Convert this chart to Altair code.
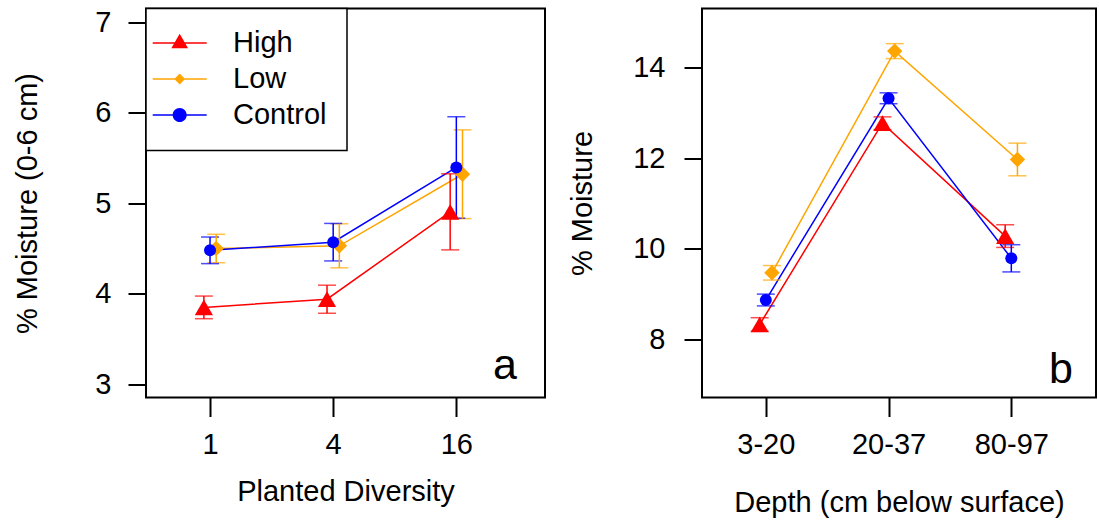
import json
import altair as alt
import pandas as pd

# ---------------- data ----------------
series = ["High", "Low", "Control"]
series_colors = ["#FF0000", "#FFA500", "#0000FF"]

diversity_labels = ["1", "4", "16"]
high_a = [3.85, 3.94, 4.905]
low_a = [4.50, 4.53, 5.32]
control_a = [4.48, 4.57, 5.395]
high_a_se = [0.125, 0.155, 0.42]
low_a_se = [0.157, 0.243, 0.49]
control_a_se = [0.147, 0.207, 0.56]

depth_labels = ["3-20", "20-37", "80-97"]
high_b = [8.33, 12.77, 10.28]
low_b = [9.47, 14.36, 11.97]
control_b = [8.87, 13.32, 9.79]
high_b_se = [0.15, 0.14, 0.25]
low_b_se = [0.16, 0.165, 0.36]
control_b_se = [0.13, 0.12, 0.30]

# ---------------- styling ----------------
FONT = "Liberation Sans"
OFFSET = {"High": -0.05, "Low": 0.05, "Control": 0.0}
SHAPES = ["triangle-up", "diamond", "circle"]
SIZES = [330, 144, 250]
LINE = "M-3.09,-0.083H2.91V0.083H-3.09Z "
LEGEND_PATHS = [
    LINE + "M-0.09,-1.04L0.84,0.59H-1.02Z",
    LINE + "M-0.09,-0.6L0.51,0L-0.09,0.6L-0.69,0Z",
    LINE + "M0.69,0A0.78,0.78 0 1,1 -0.87,0A0.78,0.78 0 1,1 0.69,0Z",
]
FILL_EXPR = " : ".join(
    "datum.value === '%s' ? '%s'" % (s, c) for s, c in zip(series[:-1], series_colors[:-1])
) + " : '%s'" % series_colors[-1]


def make_df(means, ses):
    rows = []
    for s, m, e in zip(series, means, ses):
        for i, (v, se) in enumerate(zip(m, e)):
            rows.append({"series": s, "x": i + 1 + OFFSET[s], "y": v,
                         "lo": v - se, "hi": v + se})
    return pd.DataFrame(rows)


df_a = make_df([high_a, low_a, control_a], [high_a_se, low_a_se, control_a_se])
df_b = make_df([high_b, low_b, control_b], [high_b_se, low_b_se, control_b_se])


def panel(df, cat_labels, xdom, ydom, yticks, xtitle, ytitle, ylabpad,
          ytitlepad, xtitlepad, width, tag, tagx, tagy, with_legend):
    label_expr = json.dumps(cat_labels) + "[datum.value - 1]"
    xsc = alt.Scale(domain=xdom, nice=False, zero=False)
    ysc = alt.Scale(domain=ydom, nice=False, zero=False)
    xax = alt.Axis(values=[1, 2, 3], labelExpr=label_expr, title=xtitle,
                   tickSize=19, labelPadding=14, titlePadding=xtitlepad)
    yax = alt.Axis(values=yticks, title=ytitle, tickSize=18,
                   labelPadding=ylabpad, titlePadding=ytitlepad)
    x = alt.X("x:Q", scale=xsc, axis=xax)
    color = alt.Color("series:N", scale=alt.Scale(domain=series, range=series_colors),
                      legend=None)
    base = alt.Chart(df)
    lines = base.mark_line(strokeWidth=1.5).encode(
        x=x, y=alt.Y("y:Q", scale=ysc, axis=yax), color=color,
        detail="series:N", order="x:Q")
    bars = base.mark_errorbar(ticks=True, size=18, thickness=1.5).encode(
        x=x, y=alt.Y("lo:Q", scale=ysc, axis=yax), y2="hi:Q", color=color)
    pts = base.mark_point(filled=True, opacity=1).encode(
        x=x, y=alt.Y("y:Q", scale=ysc, axis=yax), color=color,
        shape=alt.Shape("series:N", scale=alt.Scale(domain=series, range=SHAPES), legend=None),
        size=alt.Size("series:O", scale=alt.Scale(domain=series, range=SIZES), legend=None))
    tag_df = pd.DataFrame({"x": [tagx], "y": [tagy], "t": [tag]})
    tag_mark = alt.Chart(tag_df).mark_text(
        fontSize=43, font=FONT, baseline="alphabetic", align="center", color="black"
    ).encode(x=x, y=alt.Y("y:Q", scale=ysc, axis=yax), text="t:N")
    layers = [lines, bars, pts, tag_mark]
    if with_legend:
        leg = alt.Legend(title=None, orient="top-left", offset=0, padding=20,
                         strokeColor="black", fillColor="white", labelFont=FONT,
                         labelFontSize=29, labelColor="black", symbolSize=324,
                         symbolStrokeWidth=0, symbolOpacity=1,
                         labelOffset=38, rowPadding=6, labelLimit=400)
        legend_layer = base.mark_point(filled=True, opacity=0, size=324).encode(
            x=x, y=alt.Y("y:Q", scale=ysc, axis=yax),
            fill={"value": {"expr": FILL_EXPR}},
            shape=alt.Shape("series:N", scale=alt.Scale(domain=series, range=LEGEND_PATHS), legend=leg))
        layers.append(legend_layer)
    ch = alt.layer(*layers).properties(width=width, height=389)
    if with_legend:
        ch = ch.resolve_scale(shape="independent")
    return ch


pa = panel(df_a, diversity_labels, [0.48, 3.72], [2.855, 7.15], [3, 4, 5, 6, 7],
           "Planted Diversity", "% Moisture (0-6 cm)", 17, 52, 18, 399,
           "a", 3.395, 3.063, True)
pb = panel(df_b, depth_labels, [0.48, 3.69], [6.72, 15.30], [8, 10, 12, 14],
           "Depth (cm below surface)", "% Moisture", 19, 35, 29, 394,
           "b", 3.404, 7.044, False)

chart = alt.hconcat(pa, pb, spacing=21).properties(
    padding={"left": 12, "top": 6.5, "right": 0, "bottom": 0}
).configure_view(stroke="black", strokeWidth=2).configure_axis(
    domain=False, grid=False, tickColor="black", tickWidth=2,
    labelColor="black", labelFont=FONT, labelFontSize=29,
    titleFont=FONT, titleFontSize=29, titleFontWeight="normal", titleColor="black",
    labelFlush=False, labelOverlap=False
).configure_legend(strokeWidth=1.5)

chart.save("out.html", embed_options={"renderer": "svg", "actions": False})
